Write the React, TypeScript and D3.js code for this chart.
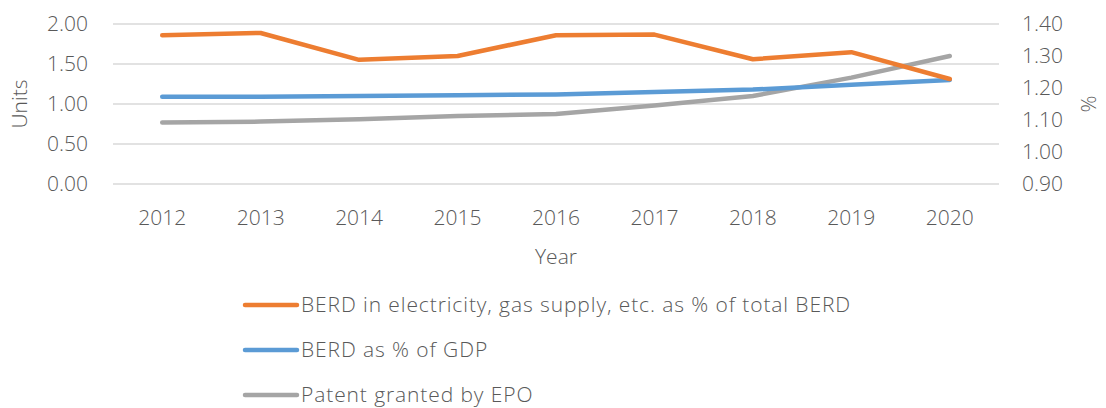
import * as d3 from "d3";
import { useEffect, useRef } from "react";

const years = ["2012", "2013", "2014", "2015", "2016", "2017", "2018", "2019", "2020"];
// right axis (%)
const berdElectricity = [1.365, 1.372, 1.288, 1.3, 1.365, 1.367, 1.29, 1.312, 1.228];
// left axis (Units)
const berdGdp = [1.09, 1.09, 1.1, 1.11, 1.12, 1.15, 1.18, 1.24, 1.3];
const patents = [0.77, 0.78, 0.81, 0.85, 0.875, 0.98, 1.1, 1.33, 1.6];
const leftTicks = [0, 0.5, 1, 1.5, 2];
const rightTicks = [0.9, 1.0, 1.1, 1.2, 1.3, 1.4];

const FONT = "'Open Sans', sans-serif";
const TEXT = "#595959";

const App = () => {
  const ref = useRef<SVGSVGElement>(null);

  useEffect(() => {
    const svg = d3.select(ref.current);
    svg.selectAll("*").remove();

    const margin = { top: 24, left: 113, right: 107 };
    const width = 1106;
    const plotW = width - margin.left - margin.right;
    const plotBottom = 184;

    const x = d3.scaleBand().domain(years).range([margin.left, margin.left + plotW]);
    const yL = d3.scaleLinear().domain([0, 2]).range([plotBottom, margin.top]);
    const yR = d3.scaleLinear().domain([0.9, 1.4]).range([plotBottom, margin.top]);
    const cx = (d: string) => (x(d) as number) + x.bandwidth() / 2;

    // gridlines
    svg
      .append("g")
      .selectAll("line")
      .data(leftTicks)
      .enter()
      .append("line")
      .attr("x1", margin.left)
      .attr("x2", margin.left + plotW)
      .attr("y1", (d) => yL(d))
      .attr("y2", (d) => yL(d))
      .attr("stroke", "#d9d9d9")
      .attr("stroke-width", 1.5);

    const label = (g: any) =>
      g
        .style("font-family", FONT)
        .style("font-weight", 300)
        .style("font-size", "21px")
        .style("fill", TEXT);

    svg
      .append("g")
      .selectAll("text")
      .data(leftTicks)
      .enter()
      .append("text")
      .attr("x", 88)
      .attr("y", (d) => yL(d))
      .attr("dy", "0.35em")
      .attr("text-anchor", "end")
      .text((d) => d3.format(".2f")(d))
      .call(label);

    svg
      .append("g")
      .selectAll("text")
      .data(rightTicks)
      .enter()
      .append("text")
      .attr("x", 1022)
      .attr("y", (d) => yR(d))
      .attr("dy", "0.35em")
      .text((d) => d3.format(".2f")(d))
      .call(label);

    svg
      .append("g")
      .selectAll("text")
      .data(years)
      .enter()
      .append("text")
      .attr("x", (d) => cx(d))
      .attr("y", 218)
      .attr("dy", "0.35em")
      .attr("text-anchor", "middle")
      .text((d) => d)
      .call(label);

    svg
      .append("text")
      .attr("x", cx("2016"))
      .attr("y", 257)
      .attr("dy", "0.35em")
      .attr("text-anchor", "middle")
      .text("Year")
      .call(label);

    svg
      .append("text")
      .attr("transform", `translate(20, 104) rotate(-90)`)
      .attr("dy", "0.35em")
      .attr("text-anchor", "middle")
      .text("Units")
      .call(label);

    svg
      .append("text")
      .attr("transform", `translate(1088, 104) rotate(90)`)
      .attr("dy", "0.35em")
      .attr("text-anchor", "middle")
      .text("%")
      .call(label);

    const series = [
      { name: "BERD in electricity, gas supply, etc. as % of total BERD", values: berdElectricity, y: yR, color: "#ed7d31" },
      { name: "BERD as % of GDP", values: berdGdp, y: yL, color: "#5b9bd5" },
      { name: "Patent granted by EPO", values: patents, y: yL, color: "#a5a5a5" },
    ];

    // draw back to front so orange sits on top
    [...series].reverse().forEach((s) => {
      const line = d3
        .line<number>()
        .x((_, i) => cx(years[i]))
        .y((d) => s.y(d));
      svg
        .append("path")
        .attr("d", line(s.values))
        .attr("fill", "none")
        .attr("stroke", s.color)
        .attr("stroke-width", 4.5)
        .attr("stroke-linecap", "round")
        .attr("stroke-linejoin", "round");
    });

    const legend = svg.append("g");
    series.forEach((s, i) => {
      const ly = 305 + i * 45;
      legend
        .append("line")
        .attr("x1", 245)
        .attr("x2", 297)
        .attr("y1", ly)
        .attr("y2", ly)
        .attr("stroke", s.color)
        .attr("stroke-width", 4.5)
        .attr("stroke-linecap", "round");
      legend
        .append("text")
        .attr("x", 301)
        .attr("y", ly)
        .attr("dy", "0.33em")
        .text(s.name)
        .call(label)
        .style("letter-spacing", "0.9px");
    });
  }, []);

  return (
    <svg
      ref={ref}
      width={1106}
      height={408}
      style={{ position: "absolute", left: 0, top: 0, background: "#fff" }}
    ></svg>
  );
};

export default App;
